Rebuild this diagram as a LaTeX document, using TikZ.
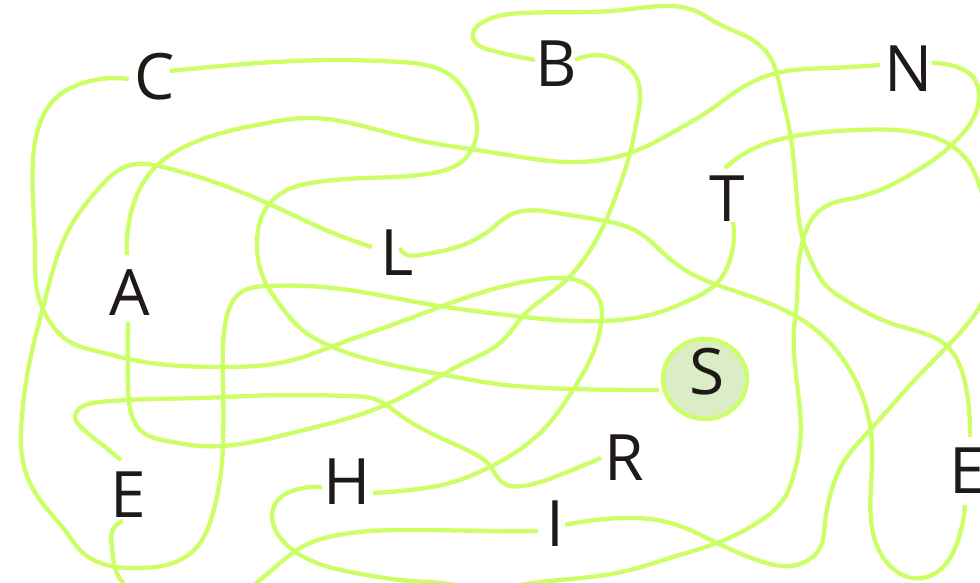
\documentclass[tikz,border=0pt]{standalone}
\usepackage{fontspec}
\setmainfont{Open Sans}
\usetikzlibrary{hobby,shapes.geometric}
\definecolor{lime}{RGB}{204,255,102}
\definecolor{sfill}{RGB}{219,237,198}
\definecolor{ink}{RGB}{31,26,23}
\begin{document}
\begin{tikzpicture}[x=1pt,y=-1pt,
  letter/.style={text=ink,font=\fontsize{64}{64}\selectfont,inner sep=0pt,anchor=base},
  wire/.style={draw=lime,line width=4.3pt,use Hobby shortcut},
  startbox/.style={ellipse,draw=lime,fill=sfill,line width=4.3pt,minimum width=84pt,minimum height=80pt,inner sep=0pt}]
\useasboundingbox (0,0) rectangle (980,583);
\clip (0,0) rectangle (980,583);
% start circle
\node[startbox] (Sc) at (705,379) {};
% letters
\node[letter] (S) at (707,394) {S};
\node[letter] (C) at (155,100) {C};
\node[letter] (B) at (556,87) {B};
\node[letter] (N) at (909,92) {N};
\node[letter] (T) at (727,221) {T};
\node[letter] (L) at (397,275) {L};
\node[letter] (A) at (130,315) {A};
\node[letter] (El) at (128,517) {E};
\node[letter] (H) at (347,504) {H};
\node[letter] (R) at (624,480) {R};
\node[letter] (I) at (555,546) {I};
\node[letter] (Er) at (967,493) {E};
% wire ends
\coordinate (S-l) at (659,390);
\coordinate (C-l) at (129,79);  \coordinate (C-r) at (170,71);
\coordinate (B-l) at (535,60);  \coordinate (B-r) at (575,60);
\coordinate (N-l) at (880,65);  \coordinate (N-r) at (932,63);
\coordinate (T-t) at (725,168); \coordinate (T-b) at (733,222);
\coordinate (L-l) at (372,247); \coordinate (L-r) at (400,248);
\coordinate (A-t) at (127,255); \coordinate (A-b) at (128,322);
\coordinate (El-t) at (121,460); \coordinate (El-b) at (123,521);
\coordinate (H-l) at (322,487); \coordinate (H-r) at (373,493);
\coordinate (R-l) at (601,458);
\coordinate (I-l) at (538,531); \coordinate (I-r) at (565,525);
\coordinate (Er-t) at (970,437); \coordinate (Er-b) at (965,505);
% S - C
\draw[wire] (S-l) .. (573,389) .. (490,383) .. (450,376) .. (383,363) .. (330,346) .. (300,328) .. (280,305) .. (263,277) .. (257,243) .. (265,210) .. (285,191) .. (317,182) .. (367,178) .. (433,173) .. (460,163) .. (476,138) .. (470,100) .. (450,75) .. (400,62) .. (333,60) .. (233,65) .. (C-r);
% C - H
\draw[wire] (C-l) .. (83,83) .. (57,97) .. (40,123) .. (33,160) .. (33,200) .. (35,250) .. (38,295) .. (50,322) .. (67,340) .. (100,352) .. (133,360) .. (213,367) .. (293,360) .. (333,346) .. (400,322) .. (490,290) .. (535,280) .. (563,278) .. (590,287) .. (601,305) .. (601,325) .. (590,360) .. (573,390) .. (540,433) .. (490,467) .. (450,483) .. (410,490) .. (H-r);
% H - N (via bottom)
\draw[wire] (H-l) .. (295,490) .. (278,500) .. (272,516) .. (277,533) .. (297,553) .. (317,563) .. (367,575) .. (400,580) .. (440,583) .. (487,588) .. (533,583) .. (590,577) .. (630,570) .. (673,557) .. (717,543) .. (757,523) .. (783,500) .. (795,470) .. (800,443) .. (797,383) .. (794,330) .. (797,300) .. (798,270) .. (803,240) .. (815,215) .. (833,203) .. (850,199) .. (880,190) .. (913,173) .. (940,155) .. (963,133) .. (975,115) .. (979,95) .. (973,77) .. (957,67) .. (N-r);
% N - A
\draw[wire] (N-l) .. (830,68) .. (777,73) .. (743,87) .. (710,110) .. (677,130) .. (630,153) .. (567,162) .. (490,152) .. (417,140) .. (350,123) .. (307,118) .. (267,123) .. (200,140) .. (150,173) .. (130,217) .. (A-t);
% A - B
\draw[wire] (A-b) .. (128,383) .. (132,416) .. (140,430) .. (167,441) .. (200,446) .. (233,445) .. (300,431) .. (383,406) .. (433,380) .. (470,360) .. (500,343) .. (523,316) .. (563,283) .. (578,267) .. (600,233) .. (617,193) .. (630,153) .. (637,120) .. (635,75) .. (623,63) .. (B-r);
% B - E (right)
\draw[wire] (B-l) .. (510,55) .. (490,50) .. (476,43) .. (473,33) .. (480,24) .. (495,17) .. (523,13) .. (623,10) .. (700,13) .. (715,22) .. (757,43) .. (773,63) .. (780,87) .. (790,133) .. (797,200) .. (803,240) .. (813,265) .. (823,282) .. (850,303) .. (890,323) .. (923,333) .. (947,346) .. (960,366) .. (967,393) .. (Er-t);
% E (right) - L
\draw[wire] (Er-b) .. (957,543) .. (940,570) .. (913,578) .. (890,566) .. (873,533) .. (872,466) .. (868,415) .. (850,370) .. (823,336) .. (790,313) .. (723,287) .. (685,270) .. (660,250) .. (638,232) .. (600,220) .. (557,213) .. (510,215) .. (490,230) .. (463,245) .. (420,255) .. (405,254) .. (L-r);
% L - T
\draw[wire] (L-l) .. (333,233) .. (267,203) .. (217,183) .. (167,168) .. (127,166) .. (100,187) .. (67,233) .. (45,300) .. (30,360) .. (22,416) .. (25,470) .. (40,500) .. (67,533) .. (83,553) .. (107,565) .. (143,568) .. (173,563) .. (197,547) .. (213,513) .. (220,480) .. (223,443) .. (223,383) .. (226,320) .. (240,293) .. (267,286) .. (333,288) .. (433,305) .. (490,313) .. (600,321) .. (657,313) .. (690,300) .. (717,283) .. (730,260) .. (T-b);
% T - I (via right edge)
\draw[wire] (T-t) .. (757,147) .. (790,137) .. (857,130) .. (913,132) .. (947,143) .. (967,160) .. (980,187) .. (992,245) .. (980,306) .. (957,336) .. (910,385) .. (870,430) .. (843,463) .. (830,496) .. (825,523) .. (820,548) .. (805,562) .. (790,566) .. (757,560) .. (717,543) .. (690,530) .. (657,520) .. (623,518) .. (I-r);
% I - E (left) (via bottom)
\draw[wire] (I-l) .. (490,531) .. (400,530) .. (333,536) .. (300,548) .. (280,563) .. (260,580) .. (235,598) .. (190,605) .. (140,597) .. (123,583) .. (115,568) .. (112,547) .. (112,532) .. (El-b);
% E (left) - R
\draw[wire] (El-t) .. (100,443) .. (80,426) .. (75,416) .. (80,408) .. (100,402) .. (200,398) .. (283,395) .. (350,396) .. (377,400) .. (400,415) .. (467,450) .. (490,466) .. (503,483) .. (523,486) .. (557,476) .. (R-l);
\end{tikzpicture}
\end{document}
